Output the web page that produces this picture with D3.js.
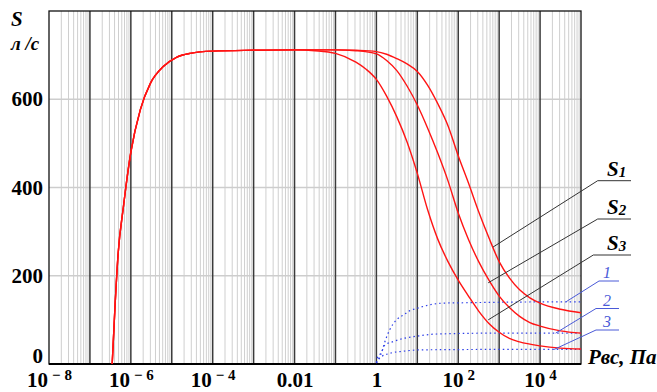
<!DOCTYPE html>
<html lang="ru">
<head>
<meta charset="utf-8">
<title>S(P)</title>
<script src="https://d3js.org/d3.v7.min.js"></script>
<style>
  body { margin: 0; background: #fff; }
  svg { display: block; font-family: "Liberation Serif", "Times New Roman", serif; }
  svg text { font-family: "Liberation Serif", "Times New Roman", serif; }
  .lbl { font-weight: bold; font-size: 21px; fill: #000; }
</style>
</head>
<body>
<script>
// data: pressure P (Pa) and pumping speed S (l/s)
const riseP = [3.5e-7, 4.1e-7, 4.9e-7, 6.6e-7, 1e-6, 1.7e-6, 3e-6, 6.2e-6, 1.3e-5, 2.8e-5, 1e-4, 1e-3, 1e-2];
const riseS = [0, 130, 251, 357, 480, 576, 636, 674, 695, 704, 709, 711, 712];

const s1P = [0.1, 0.316, 1, 1.78, 3.16, 5.62, 10, 17.8, 31.6, 56.2, 100, 178, 316, 562, 1000, 1778, 3162, 5623, 10000, 31623, 100000];
const s1S = [712, 711, 708, 702, 692, 680, 663, 632, 590, 540, 472, 410, 345, 286, 232, 195, 168, 150, 138, 124, 116];

const s2P = [0.1, 0.316, 1, 1.78, 3.16, 5.62, 10, 17.8, 31.6, 56.2, 100, 178, 316, 562, 1000, 1778, 3162, 5623, 10000, 31623, 100000];
const s2S = [712, 710, 703, 688, 665, 630, 587, 535, 478, 415, 342, 282, 232, 190, 154, 128, 108, 94, 86, 75, 70];

const s3P = [0.0316, 0.1, 0.316, 0.562, 1, 1.78, 3.16, 5.62, 10, 17.8, 31.6, 56.2, 100, 178, 316, 562, 1000, 1778, 3162, 10000, 31623, 100000];
const s3S = [710, 704, 684, 668, 645, 607, 560, 503, 432, 350, 283, 232, 190, 154, 120, 92, 72, 58, 50, 41, 36, 34];

const c1P = [1, 1.04, 1.35, 1.62, 2.1, 3.1, 4.6, 6.6, 9.7, 20, 44, 200, 1000, 100000];
const c1S = [3, 13, 28, 51, 77, 100, 111, 121, 126, 134, 138, 139, 140, 141];

const c2P = [1, 1.26, 1.62, 2.6, 4.6, 9.7, 30, 1000, 100000];
const c2S = [3, 20, 43, 51, 58, 63, 68, 70, 70];

const c3P = [1, 1.26, 2.1, 4.6, 12, 1000, 100000];
const c3S = [2, 15, 24, 29, 32, 33, 33];

const xTicks = [1e-8, 1e-6, 1e-4, 1e-2, 1, 1e2, 1e4];
const xTickText = [["10", "\u2212 8"], ["10", "\u2212 6"], ["10", "\u2212 4"], ["0.01", ""], ["1", ""], ["10", "2"], ["10", "4"]];
const yTicks = [0, 200, 400, 600];
const yGrid = [200, 400, 600];

const sNames = ["1", "2", "3"];
const cNames = ["1", "2", "3"];

const W = 657, H = 392;
const svg = d3.select("body").append("svg").attr("width", W).attr("height", H);

const x = d3.scaleLog().domain([1e-8, 1e5]).range([49, 581]);
const y = d3.scaleLinear().domain([0, 800]).range([364, 11]);

// grid
const allTicks = x.ticks(20);
const isMajor = v => Math.abs(Math.log10(v) - Math.round(Math.log10(v))) < 1e-9;

svg.append("g").selectAll("line")
  .data(allTicks.filter(v => !isMajor(v)))
  .join("line")
  .attr("x1", d => x(d)).attr("x2", d => x(d))
  .attr("y1", y(800)).attr("y2", y(0))
  .attr("stroke", "#cfcfcf").attr("stroke-width", 1);

svg.append("g").selectAll("line")
  .data(yGrid)
  .join("line")
  .attr("x1", x(1e-8)).attr("x2", x(1e5))
  .attr("y1", d => y(d)).attr("y2", d => y(d))
  .attr("stroke", "#cdcdcd").attr("stroke-width", 1.5);

svg.append("g").selectAll("line")
  .data(allTicks.filter(v => isMajor(v) && v > 1e-8 && v < 1e5))
  .join("line")
  .attr("x1", d => x(d)).attr("x2", d => x(d))
  .attr("y1", y(800)).attr("y2", y(0))
  .attr("stroke", "#3a3a3a").attr("stroke-width", 1.5);

// frame
svg.append("rect")
  .attr("x", x(1e-8)).attr("y", y(800))
  .attr("width", x(1e5) - x(1e-8)).attr("height", y(0) - y(800))
  .attr("fill", "none").attr("stroke", "#111").attr("stroke-width", 1.3);
svg.append("line")
  .attr("x1", x(1e-8)).attr("x2", x(1e5)).attr("y1", y(0)).attr("y2", y(0))
  .attr("stroke", "#000").attr("stroke-width", 2);

// curves
const line = d3.line().x(d => x(d[0])).y(d => y(d[1])).curve(d3.curveMonotoneX);
const zip = (a, b) => a.map((v, i) => [v, b[i]]);

const dotted = [zip(c1P, c1S), zip(c2P, c2S), zip(c3P, c3S)];
svg.append("g").selectAll("path")
  .data(dotted)
  .join("path")
  .attr("d", line)
  .attr("fill", "none")
  .attr("stroke", "#2d3fe8")
  .attr("stroke-width", 1.2)
  .attr("stroke-dasharray", "1.5,3");

const rise = zip(riseP, riseS);
const red = [zip(s1P, s1S), zip(s2P, s2S), zip(s3P, s3S)]
  .map(f => rise.filter(p => p[0] < f[0][0]).concat(f));
svg.append("g").selectAll("path")
  .data(red)
  .join("path")
  .attr("d", line)
  .attr("fill", "none")
  .attr("stroke", "#ff1414")
  .attr("stroke-width", 1.4);

// y axis labels
const yAxis = svg.append("g")
  .attr("transform", "translate(" + x(1e-8) + ",0)")
  .call(d3.axisLeft(y).tickValues(yTicks).tickSize(0).tickPadding(6))
  .attr("font-family", null).attr("font-size", null);
yAxis.select(".domain").remove();
yAxis.selectAll("text")
  .attr("class", "lbl")
  .attr("dy", d => d === 0 ? "-0.05em" : "0.32em");

// x axis labels
const xAxis = svg.append("g")
  .attr("transform", "translate(0," + y(0) + ")")
  .call(d3.axisBottom(x).tickValues(xTicks).tickSize(0).tickFormat(""))
  .attr("font-family", null).attr("font-size", null);
xAxis.select(".domain").remove();
xAxis.selectAll(".tick").append("text")
  .attr("class", "lbl")
  .attr("y", 23)
  .attr("text-anchor", "middle")
  .each(function (d, i) {
    const t = d3.select(this);
    const parts = xTickText[i];
    t.append("tspan").text(parts[0]);
    if (parts[1]) {
      t.append("tspan").attr("dx", 4).attr("dy", -7)
        .attr("font-size", 15).text(parts[1]);
    }
  });

// axis titles
svg.append("text").attr("class", "lbl").attr("font-style", "italic")
  .attr("x", 11).attr("y", 26).attr("font-size", 20).text("S");
svg.append("text").attr("class", "lbl").attr("font-style", "italic")
  .attr("x", 11).attr("y", 50).style("font-size", "19px").text("л /с");
svg.append("text").attr("class", "lbl").attr("font-style", "italic")
  .attr("x", 588).attr("y", 364).text("Pвс, Па");

// S1..S3 callouts: [label x, label y, P at curve, S at curve]
const sLab = [[597.7, 180.7, 708, 265], [597.7, 219, 540, 184], [593.3, 255, 540, 100]];
sLab.forEach((p, i) => {
  const ex = x(p[2]), ey = y(p[3]);
  svg.append("path")
    .attr("d", `M${ex},${ey}L${p[0]},${p[1]}L631,${p[1]}`)
    .attr("fill", "none").attr("stroke", "#333").attr("stroke-width", 1);
  const t = svg.append("text").attr("class", "lbl").attr("font-style", "italic")
    .attr("x", 607).attr("y", p[1] - 5);
  t.append("tspan").text("S");
  t.append("tspan").attr("font-size", 15).attr("dy", 1).text(sNames[i]);
});

// 1..3 callouts
const cLab = [[599, 281, 4.3e4, 141], [596, 308.5, 2.4e4, 70], [596, 330, 2.2e4, 33]];
cLab.forEach((p, i) => {
  const ex = x(p[2]), ey = y(p[3]);
  svg.append("path")
    .attr("d", `M${ex},${ey}L${p[0]},${p[1]}L619,${p[1]}`)
    .attr("fill", "none").attr("stroke", "#4a5ad8").attr("stroke-width", 1);
  svg.append("text")
    .attr("x", 603).attr("y", p[1] - 3)
    .attr("font-style", "italic").attr("font-size", 16)
    .attr("fill", "#4a5ad8").text(cNames[i]);
});
</script>
</body>
</html>
